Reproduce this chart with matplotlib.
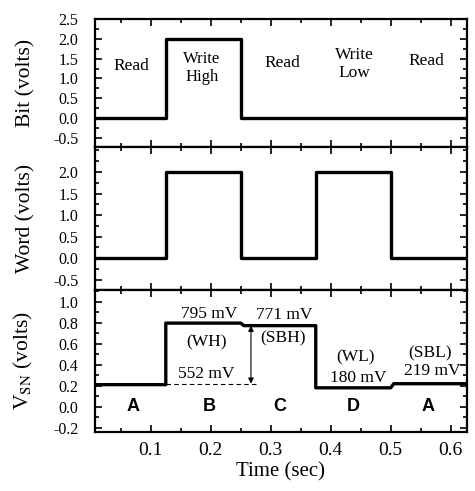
import matplotlib
matplotlib.use('Agg')
import matplotlib.pyplot as plt
from matplotlib.ticker import MultipleLocator, FixedLocator

plt.rcParams['font.family'] = 'Liberation Serif'
plt.rcParams['mathtext.fontset'] = 'stix'

# signal data (time in sec, volts)
t_bit = [0.007, 0.125, 0.125, 0.25, 0.25, 0.627]
v_bit = [0.0, 0.0, 2.0, 2.0, 0.0, 0.0]

t_word = [0.007, 0.125, 0.125, 0.25, 0.25, 0.375, 0.375, 0.5, 0.5, 0.627]
v_word = [0.0, 0.0, 2.0, 2.0, 0.0, 0.0, 2.0, 2.0, 0.0, 0.0]

t_vsn = [0.007, 0.125, 0.125, 0.25, 0.255, 0.375, 0.375, 0.5, 0.505, 0.627]
v_vsn = [0.21, 0.21, 0.795, 0.795, 0.771, 0.771, 0.18, 0.18, 0.219, 0.219]

bit_notes = [(0.068, 1.31, 'Read'), (0.185, 1.27, 'Write\nHigh'), (0.32, 1.4, 'Read'),
             (0.44, 1.36, 'Write\nLow'), (0.56, 1.45, 'Read')]
vsn_notes = [(0.198, 0.88, '795 mV'), (0.193, 0.61, '(WH)'), (0.193, 0.31, '552 mV'),
             (0.323, 0.87, '771 mV'), (0.32, 0.65, '(SBH)'), (0.442, 0.47, '(WL)'),
             (0.445, 0.275, '180 mV'), (0.566, 0.51, '(SBL)'), (0.57, 0.34, '219 mV')]
phases = [(0.07, 'A'), (0.198, 'B'), (0.315, 'C'), (0.438, 'D'), (0.562, 'A')]

fig = plt.figure(figsize=(4.75, 4.91), dpi=100)
ax1 = fig.add_axes([0.2, 0.7006, 0.783, 0.2607])
ax2 = fig.add_axes([0.2, 0.4094, 0.783, 0.2912], sharex=ax1)
ax3 = fig.add_axes([0.2, 0.1202, 0.783, 0.2892], sharex=ax1)

lw = 2.4
ax1.plot(t_bit, v_bit, color='black', lw=lw)
ax2.plot(t_word, v_word, color='black', lw=lw)
ax3.plot(t_vsn, v_vsn, color='black', lw=lw)

ax1.set_ylim(-0.73, 2.5)
ax2.set_ylim(-0.74, 2.58)
ax3.set_ylim(-0.24, 1.11)
ax1.set_xlim(0.007, 0.627)

ax1.yaxis.set_major_locator(FixedLocator([-0.5, 0, 0.5, 1.0, 1.5, 2.0, 2.5]))
ax2.yaxis.set_major_locator(FixedLocator([-0.5, 0, 0.5, 1.0, 1.5, 2.0]))
ax3.yaxis.set_major_locator(FixedLocator([-0.2, 0, 0.2, 0.4, 0.6, 0.8, 1.0]))
for ax in (ax1, ax2):
    ax.yaxis.set_minor_locator(MultipleLocator(0.25))
ax3.yaxis.set_minor_locator(MultipleLocator(0.1))

for ax in (ax1, ax2, ax3):
    ax.yaxis.set_major_formatter(plt.FuncFormatter(lambda v, p: '%.1f' % v))
    ax.xaxis.set_major_locator(MultipleLocator(0.1))
    ax.xaxis.set_minor_locator(MultipleLocator(0.05))
    ax.tick_params(which='both', direction='in', top=True, right=True, width=1.2)
    ax.tick_params(which='major', length=5)
    ax.tick_params(which='minor', length=3)
    ax.tick_params(axis='y', labelsize=11.5, pad=12)
    ax.tick_params(axis='x', labelsize=14, pad=7)
    for s in ax.spines.values():
        s.set_linewidth(1.6)
for ax in (ax1, ax2):
    ax.tick_params(axis='x', labelbottom=False)
ax3.xaxis.set_major_formatter(plt.FuncFormatter(lambda v, p: '%.1f' % v))

ax1.set_ylabel('Bit (volts)', fontsize=15.5)
ax2.set_ylabel('Word (volts)', fontsize=15.5)
ax3.set_ylabel(r'V$_{\mathrm{SN}}$ (volts)', fontsize=15.5)
for ax in (ax1, ax2, ax3):
    ax.yaxis.set_label_coords(-0.16, 0.5)
ax3.set_xlabel('Time (sec)', fontsize=15)
ax3.xaxis.set_label_coords(0.5, -0.21)

for x, y, s in bit_notes:
    fs = 12 if 'High' in s else 12.5
    ax1.text(x, y, s, ha='center', va='center', fontsize=fs, linespacing=1.15)

for x, y, s in vsn_notes:
    ax3.text(x, y, s, ha='center', va='center', fontsize=12.5)

for x, s in phases:
    ax3.text(x, 0.0, s, ha='center', va='center', fontsize=13,
             fontweight='bold', family='Liberation Sans')

ax3.plot([0.125, 0.278], [0.219, 0.219], color='black', lw=0.8, ls=(0, (4, 3)))
ax3.annotate('', xy=(0.267, 0.219), xytext=(0.267, 0.771),
             arrowprops=dict(arrowstyle='<|-|>', color='black', lw=0.8,
                             mutation_scale=8, shrinkA=0, shrinkB=0))

fig.savefig('out.png', dpi=100)
